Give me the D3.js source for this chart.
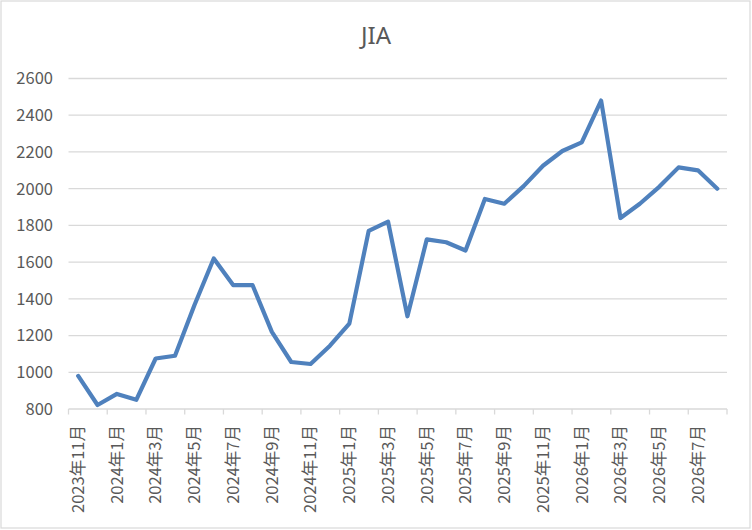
<!DOCTYPE html>
<html>
<head>
<meta charset="utf-8">
<script src="https://cdn.jsdelivr.net/npm/d3@7/dist/d3.min.js"></script>
<style>
  html, body { margin: 0; padding: 0; background: #fff; }
  svg { display: block; }
</style>
</head>
<body>
<svg id="chart" width="752" height="530"></svg>
<script>
const title = "JIA";
const categories = [
  "2023年11月","2023年12月",
  "2024年1月","2024年2月","2024年3月","2024年4月","2024年5月","2024年6月",
  "2024年7月","2024年8月","2024年9月","2024年10月","2024年11月","2024年12月",
  "2025年1月","2025年2月","2025年3月","2025年4月","2025年5月","2025年6月",
  "2025年7月","2025年8月","2025年9月","2025年10月","2025年11月","2025年12月",
  "2026年1月","2026年2月","2026年3月","2026年4月","2026年5月","2026年6月",
  "2026年7月","2026年8月"
];
const values = [
  980, 822,
  882, 850, 1075, 1090, 1365, 1620,
  1475, 1475, 1220, 1056, 1045, 1145,
  1265, 1770, 1820, 1305, 1724, 1708,
  1663, 1944, 1918, 2014, 2125, 2205,
  2252, 2480, 1840, 1918, 2010, 2116,
  2100, 2000
];
const yTicks = [800, 1000, 1200, 1400, 1600, 1800, 2000, 2200, 2400, 2600];

const W = 752, H = 530;
const plot = { left: 68.5, right: 727, top: 78.5, bottom: 409 };
const textColor = "#595959";
const gridColor = "#d9d9d9";
const lineColor = "#4f81bd";
const font = "'Noto Sans CJK SC', 'Noto Sans', sans-serif";

const svg = d3.select("#chart");

// outer border
svg.append("rect")
  .attr("x", 1).attr("y", 1).attr("width", W - 3).attr("height", H - 3)
  .attr("fill", "#fff").attr("stroke", gridColor).attr("stroke-width", 1.2);

const x = d3.scaleBand().domain(categories).range([plot.left, plot.right]).padding(0);
const y = d3.scaleLinear().domain([800, 2600]).range([plot.bottom, plot.top]);

// gridlines
svg.append("g").selectAll("line").data(yTicks.filter(d => d !== 800)).join("line")
  .attr("x1", plot.left).attr("x2", plot.right)
  .attr("y1", d => y(d)).attr("y2", d => y(d))
  .attr("stroke", gridColor).attr("stroke-width", 1.3);

// y labels
svg.append("g").selectAll("text").data(yTicks).join("text")
  .attr("x", 53).attr("y", d => y(d))
  .attr("dy", "0.36em")
  .attr("text-anchor", "end")
  .attr("font-family", font).attr("font-size", 16.5)
  .attr("fill", textColor)
  .text(d => d);

// x axis line
svg.append("line")
  .attr("x1", plot.left).attr("x2", plot.right)
  .attr("y1", plot.bottom).attr("y2", plot.bottom)
  .attr("stroke", gridColor).attr("stroke-width", 1.3);

// x ticks at band boundaries, every 2 categories
const tickPositions = categories.filter((c, i) => i % 2 === 0).map(c => x(c)).concat([plot.right]);
svg.append("g").selectAll("line").data(tickPositions).join("line")
  .attr("x1", d => d).attr("x2", d => d)
  .attr("y1", plot.bottom).attr("y2", plot.bottom + 5.5)
  .attr("stroke", gridColor).attr("stroke-width", 1.3);

// x labels (every other category), rotated
svg.append("g").selectAll("text").data(categories.filter((c, i) => i % 2 === 0)).join("text")
  .attr("transform", d => `translate(${x(d) + x.bandwidth() / 2},425) rotate(-90)`)
  .attr("text-anchor", "end")
  .attr("dy", "0.35em")
  .attr("font-family", font).attr("font-size", 16.5)
  .attr("fill", textColor)
  .text(d => d);

// line
const line = d3.line()
  .x((d, i) => x(categories[i]) + x.bandwidth() / 2)
  .y(d => y(d));
svg.append("path").datum(values)
  .attr("d", line)
  .attr("fill", "none")
  .attr("stroke", lineColor)
  .attr("stroke-width", 4.2)
  .attr("stroke-linejoin", "round")
  .attr("stroke-linecap", "round");

// title
svg.append("text")
  .attr("x", 376).attr("y", 44)
  .attr("text-anchor", "middle")
  .attr("font-family", "'Noto Sans', sans-serif").attr("font-size", 24)
  .attr("fill", textColor)
  .text(title);
</script>
</body>
</html>
